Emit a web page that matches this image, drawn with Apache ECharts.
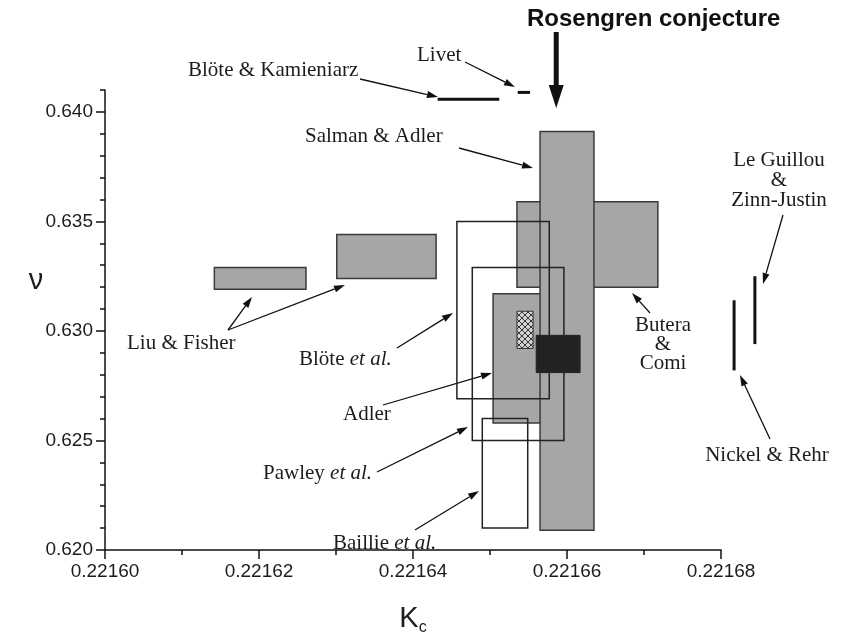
<!DOCTYPE html>
<html>
<head>
<meta charset="utf-8">
<script src="https://cdn.jsdelivr.net/npm/echarts@6/dist/echarts.min.js"></script>
<style>
  html, body { margin: 0; padding: 0; background: #fff; }
  #chart { width: 843px; height: 641px; }
</style>
</head>
<body>
<div id="chart"></div>
<script>
// Estimates of the critical coupling Kc and the exponent nu, one box per study.
const rectNames = ['Liu & Fisher (1)', 'Liu & Fisher (2)', 'Butera & Comi', 'Adler', 'Salman & Adler',
                   'Blöte et al.', 'Pawley et al.', 'Baillie et al.', 'hatched', 'black'];
const rectKcMin = [0.2216142, 0.2216301, 0.2216535, 0.2216504, 0.2216565, 0.2216457, 0.2216477, 0.2216490, 0.2216535, 0.2216560];
const rectKcMax = [0.2216261, 0.2216430, 0.2216718, 0.2216585, 0.2216635, 0.2216577, 0.2216596, 0.2216549, 0.2216556, 0.2216617];
const rectNuMin = [0.6319, 0.6324, 0.6320, 0.6258, 0.6209, 0.6269, 0.6250, 0.6210, 0.6292, 0.6281];
const rectNuMax = [0.6329, 0.6344, 0.6359, 0.6317, 0.6391, 0.6350, 0.6329, 0.6260, 0.6309, 0.6298];
const rectKind  = ['gray', 'gray', 'gray', 'gray', 'gray', 'open', 'open', 'open', 'hatch', 'black'];

// Single-value results drawn as segments
const segNames = ['Blöte & Kamieniarz', 'Livet', 'Nickel & Rehr', 'Le Guillou & Zinn-Justin'];
const segKcMin = [0.2216432, 0.2216536, 0.2216817, 0.2216844];
const segKcMax = [0.2216512, 0.2216552, 0.2216817, 0.2216844];
const segNuMin = [0.64058, 0.64089, 0.6282, 0.6294];
const segNuMax = [0.64058, 0.64089, 0.6314, 0.6325];

const rosengrenKc = 0.2216586;

const xTicks = [0.22160, 0.22162, 0.22164, 0.22166, 0.22168];
const yTicks = [0.620, 0.625, 0.630, 0.635, 0.640];

const SERIF = 'Liberation Serif';
const SANS = 'Liberation Sans';
const INK = '#1c1c1c';

// cross-hatch fill
const hatch = document.createElement('canvas');
hatch.width = 6; hatch.height = 6;
const hc = hatch.getContext('2d');
hc.fillStyle = '#d4d4d4'; hc.fillRect(0, 0, 6, 6);
hc.strokeStyle = '#333'; hc.lineWidth = 1;
hc.beginPath(); hc.moveTo(0, 0); hc.lineTo(6, 6); hc.moveTo(6, 0); hc.lineTo(0, 6); hc.stroke();

const rectStyles = {
  gray:  { fill: '#a6a6a6', stroke: '#3a3a3a', lineWidth: 1.5 },
  open:  { fill: 'none', stroke: '#222', lineWidth: 1.5 },
  hatch: { fill: { image: hatch, repeat: 'repeat' }, stroke: '#333', lineWidth: 1 },
  black: { fill: '#222', stroke: '#222', lineWidth: 1 }
};

const rectData = rectNames.map((n, i) => [rectKcMin[i], rectKcMax[i], rectNuMin[i], rectNuMax[i]]);
const segData = segNames.map((n, i) => [segKcMin[i], segKcMax[i], segNuMin[i], segNuMax[i]]);

const chart = echarts.init(document.getElementById('chart'), null, { renderer: 'canvas' });

const baseAxisLine = { show: true, lineStyle: { color: '#111', width: 1.5 } };

chart.setOption({
  backgroundColor: '#fff',
  animation: false,
  grid: { left: 105, right: 122, top: 90, bottom: 79 },
  xAxis: {
    type: 'value', min: 0.22160, max: 0.22168, interval: 0.00002,
    axisLine: baseAxisLine,
    axisTick: { show: true, inside: false, length: 9, lineStyle: { color: '#111', width: 1.5 } },
    minorTick: { show: true, splitNumber: 2, length: 5, lineStyle: { color: '#111', width: 1.5 } },
    splitLine: { show: false },
    axisLabel: { formatter: v => v.toFixed(5), fontFamily: SANS, fontSize: 19, color: INK, margin: 12 },
    name: '{k|K}{s|c}', nameLocation: 'middle', nameGap: 52,
    nameTextStyle: {
      rich: {
        k: { fontFamily: SANS, fontSize: 29, color: INK },
        s: { fontFamily: SANS, fontSize: 16, color: INK, padding: [18, 0, 0, 0] }
      }
    }
  },
  yAxis: [
    {
      type: 'value', min: 0.620, max: 0.641, interval: 0.001,
      axisLine: baseAxisLine,
      axisTick: { show: true, inside: false, length: 5, lineStyle: { color: '#111', width: 1.5 } },
      axisLabel: { show: false },
      splitLine: { show: false }
    },
    {
      type: 'value', min: 0.620, max: 0.641, position: 'left',
      axisLine: { show: false },
      axisTick: { show: true, inside: false, length: 9, customValues: yTicks, lineStyle: { color: '#111', width: 1.5 } },
      axisLabel: { customValues: yTicks, formatter: v => v.toFixed(3), fontFamily: SANS, fontSize: 19, color: INK, margin: 12 },
      splitLine: { show: false }
    }
  ],
  series: [
    {
      type: 'custom', name: 'studies', clip: false, silent: true,
      encode: { x: [0, 1], y: [2, 3] },
      data: rectData,
      renderItem(params, api) {
        const p0 = api.coord([api.value(0), api.value(3)]);
        const p1 = api.coord([api.value(1), api.value(2)]);
        const st = rectStyles[rectKind[params.dataIndex]];
        return {
          type: 'rect', z2: params.dataIndex,
          shape: { x: p0[0], y: p0[1], width: p1[0] - p0[0], height: p1[1] - p0[1] },
          style: Object.assign({}, st)
        };
      }
    },
    {
      type: 'custom', name: 'segments', clip: false, silent: true,
      encode: { x: [0, 1], y: [2, 3] },
      data: segData,
      renderItem(params, api) {
        const a = api.coord([api.value(0), api.value(2)]);
        const b = api.coord([api.value(1), api.value(3)]);
        return {
          type: 'line',
          shape: { x1: a[0], y1: a[1], x2: b[0], y2: b[1] },
          style: { stroke: '#111', lineWidth: 3 }
        };
      }
    }
  ]
});

// ----- annotations -----
function arrow(x1, y1, x2, y2, opts) {
  const o = Object.assign({ w: 1.3, len: 11, half: 3.5, color: '#111' }, opts || {});
  const dx = x2 - x1, dy = y2 - y1, d = Math.hypot(dx, dy);
  const ux = dx / d, uy = dy / d;
  const bx = x2 - ux * o.len, by = y2 - uy * o.len;
  return {
    type: 'group', silent: true,
    children: [
      { type: 'line', shape: { x1, y1, x2: bx, y2: by }, style: { stroke: o.color, lineWidth: o.w } },
      { type: 'polygon', shape: { points: [[x2, y2], [bx - uy * o.half, by + ux * o.half], [bx + uy * o.half, by - ux * o.half]] },
        style: { fill: o.color } }
    ]
  };
}

const serifStyle = { fontFamily: SERIF, fontSize: 21, fill: INK };
const richSerif = {
  n: { fontFamily: SERIF, fontSize: 21, fill: INK, color: INK },
  i: { fontFamily: SERIF, fontSize: 21, fontStyle: 'italic', fill: INK, color: INK }
};

function label(text, x, y, align, extra) {
  return {
    type: 'text', silent: true, x, y,
    style: Object.assign({ text, align: align || 'left', verticalAlign: 'middle', rich: richSerif }, serifStyle, extra || {})
  };
}

const rx = chart.convertToPixel({ gridIndex: 0 }, [rosengrenKc, 0.640])[0];

chart.setOption({
  graphic: [
    // title and the conjectured Kc
    { type: 'text', silent: true, x: 527, y: 19,
      style: { text: 'Rosengren conjecture', fontFamily: SANS, fontWeight: 'bold', fontSize: 24, fill: '#111', verticalAlign: 'middle' } },
    { type: 'rect', silent: true, shape: { x: rx - 2.5, y: 32, width: 5, height: 56 }, style: { fill: '#111' } },
    { type: 'polygon', silent: true, shape: { points: [[rx - 7.5, 85], [rx + 7.5, 85], [rx, 108]] }, style: { fill: '#111' } },

    // y axis name
    { type: 'text', silent: true, x: 36, y: 281,
      style: { text: 'ν', fontFamily: SANS, fontSize: 29, fill: INK, align: 'center', verticalAlign: 'middle' } },

    label('Blöte & Kamieniarz', 188, 70),
    arrow(360, 79, 438, 97),
    label('Livet', 417, 55),
    arrow(465, 62, 515, 87),
    label('Salman & Adler', 305, 136),
    arrow(459, 148, 533, 168),
    label('Liu & Fisher', 127, 343),
    arrow(228, 330, 252, 297),
    arrow(228, 330, 345, 285),
    label('{n|Blöte }{i|et al.}', 299, 359),
    arrow(397, 348, 453, 313),
    label('Adler', 343, 414),
    arrow(383, 405, 492, 373),
    label('{n|Pawley }{i|et al.}', 263, 473),
    arrow(377, 472, 468, 427),
    label('{n|Baillie }{i|et al.}', 333, 543),
    arrow(415, 530, 479, 491),
    label('Butera\n&\nComi', 663, 344, 'center', { lineHeight: 19 }),
    arrow(650, 313, 632, 293),
    label('Le Guillou\n&\nZinn-Justin', 779, 180, 'center', { lineHeight: 20 }),
    arrow(783, 215, 763, 284),
    label('Nickel & Rehr', 767, 455, 'center'),
    arrow(770, 439, 740, 375)
  ]
});
</script>
</body>
</html>
